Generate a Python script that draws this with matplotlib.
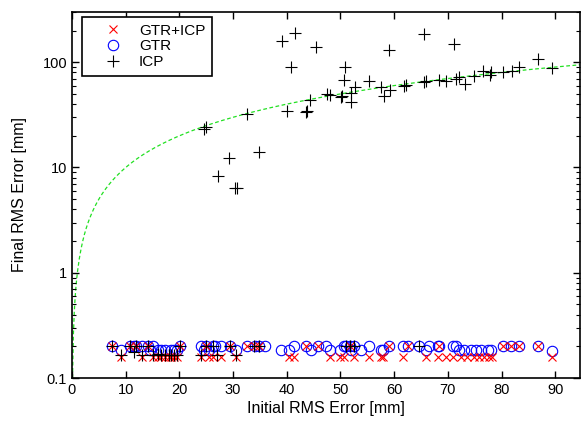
import numpy as np
import matplotlib
matplotlib.use('Agg')
import matplotlib.pyplot as plt

plt.rcParams['font.family'] = ['Liberation Sans', 'DejaVu Sans']

# ICP final error (did not converge / large error)
icp_hi_x = [24.5, 24.9, 27.2, 29.2, 30.3, 30.8, 32.5, 34.8, 39.1, 40.1, 40.8, 41.6,
            43.6, 43.8, 44.4, 45.5, 47.5, 48.0, 50.1, 50.3, 50.6, 50.9, 51.9, 51.9,
            52.7, 55.4, 57.6, 58.1, 59.1, 59.3, 61.8, 62.2, 65.5, 65.6, 66.0, 68.4,
            69.6, 71.1, 71.5, 72.0, 73.2, 74.9, 76.6, 77.9, 78.0, 80.2, 82.0, 83.3,
            86.8, 89.3]
icp_hi_y = [23.3, 24.4, 8.3, 12.4, 6.4, 6.4, 31.9, 14.1, 158, 34.3, 89.5, 189,
            34.0, 34.5, 43.6, 139, 50.0, 48.6, 46.9, 47.5, 68.5, 89.5, 51.1, 42.0,
            58.3, 65.9, 58.3, 47.6, 129.7, 53.9, 59.2, 61.4, 185, 65.0, 67.0, 67.4,
            66.0, 148.7, 70.0, 72.0, 62.7, 73.6, 82.0, 76.3, 80.8, 80.8, 82.0, 90.1,
            107, 88.0]

# ICP final error (converged)
icp_lo_x = [7.4, 9.2, 10.8, 11.5, 12.0, 13.0, 14.1, 15.1, 16.0, 16.5, 17.3, 18.0,
            18.5, 19.0, 19.5, 20.1, 24.1, 25.0, 26.3, 27.0, 29.4, 30.6, 33.8, 34.9,
            51.0, 51.7, 52.6, 64.7]
icp_lo_y = [0.2, 0.165, 0.2, 0.175, 0.2, 0.165, 0.2, 0.165, 0.17, 0.165, 0.165, 0.165,
            0.165, 0.165, 0.165, 0.2, 0.165, 0.2, 0.2, 0.165, 0.2, 0.165, 0.2, 0.2,
            0.2, 0.2, 0.2, 0.2]

# GTR final error
gtr_x = [7.4, 9.2, 10.8, 11.5, 12.0, 13.0, 14.1, 14.5, 15.1, 16.0, 16.5, 17.3,
         18.5, 19.0, 19.5, 20.1, 24.1, 24.5, 25.0, 25.5, 26.3, 26.6, 27.8, 29.4,
         30.6, 32.5, 34.0, 34.9, 35.9, 39.0, 40.5, 41.4, 43.6, 44.5, 45.8, 47.3,
         48.0, 50.0, 50.7, 51.0, 51.7, 52.0, 52.6, 53.8, 55.4, 57.6, 58.0, 59.1,
         61.6, 62.5, 64.7, 65.9, 66.5, 68.1, 68.4, 70.9, 71.5, 72.1, 73.0, 74.3,
         75.2, 76.2, 77.4, 78.0, 80.2, 81.7, 83.3, 86.7, 89.3]
gtr_y = [0.2, 0.185, 0.2, 0.2, 0.2, 0.2, 0.2, 0.185, 0.2, 0.185, 0.185, 0.185,
         0.185, 0.185, 0.185, 0.2, 0.2, 0.185, 0.2, 0.185, 0.2, 0.2, 0.2, 0.2,
         0.185, 0.2, 0.2, 0.2, 0.2, 0.185, 0.185, 0.2, 0.2, 0.185, 0.2, 0.2,
         0.185, 0.185, 0.2, 0.2, 0.2, 0.185, 0.2, 0.185, 0.2, 0.185, 0.185, 0.2,
         0.2, 0.2, 0.2, 0.185, 0.2, 0.2, 0.2, 0.2, 0.2, 0.185, 0.185, 0.185,
         0.185, 0.185, 0.185, 0.185, 0.2, 0.2, 0.2, 0.2, 0.18]

# GTR+ICP final error
gtricp_x = [7.4, 9.2, 10.8, 12.0, 13.0, 14.1, 15.1, 16.0, 16.5, 17.3, 18.0, 18.5,
            19.0, 19.5, 20.1, 24.1, 25.0, 25.5, 26.3, 27.8, 29.4, 30.6, 32.5, 34.0,
            34.9, 40.5, 41.4, 43.6, 45.8, 48.0, 50.0, 50.7, 51.7, 52.6, 55.4, 57.6,
            58.0, 59.1, 61.6, 62.5, 65.9, 68.1, 68.4, 69.6, 70.9, 72.4, 73.6, 74.9,
            75.8, 76.8, 77.7, 78.2, 80.2, 81.7, 83.3, 86.7, 89.3]
gtricp_y = [0.2, 0.16, 0.2, 0.2, 0.16, 0.2, 0.16, 0.16, 0.16, 0.16, 0.16, 0.16,
            0.16, 0.16, 0.2, 0.16, 0.2, 0.16, 0.16, 0.16, 0.2, 0.16, 0.2, 0.2,
            0.2, 0.16, 0.16, 0.2, 0.2, 0.16, 0.16, 0.16, 0.2, 0.16, 0.16, 0.16,
            0.16, 0.2, 0.16, 0.2, 0.16, 0.16, 0.2, 0.16, 0.16, 0.16, 0.16, 0.16,
            0.16, 0.16, 0.16, 0.16, 0.2, 0.2, 0.2, 0.2, 0.16]

fig = plt.figure(figsize=(5.81, 4.26), dpi=100)
ax = fig.add_axes([72/581, 48/426, 508/581, 366/426])

# y = x reference line
ref = np.linspace(0.1, 95, 600)
ax.plot(ref, ref, color='#22e022', lw=0.9, dashes=(3, 2), zorder=1)

ax.plot(gtricp_x, gtricp_y, 'x', color='red', ms=6, mew=0.8, label='GTR+ICP', zorder=3)
ax.plot(gtr_x, gtr_y, 'o', mfc='none', mec='blue', ms=7.5, mew=0.8, label='GTR', zorder=2)
ax.plot(icp_hi_x + icp_lo_x, icp_hi_y + icp_lo_y, '+', color='black', ms=8, mew=0.8,
        label='ICP', zorder=4)

ax.set_yscale('log')
ax.set_xlim(0, 94.6)
ax.set_ylim(0.1, 300)
ax.set_xticks(range(0, 100, 10))
ax.set_yticks([0.1, 1, 10, 100])
ax.set_yticklabels(['0.1', '1', '10', '100'])
ax.tick_params(which='both', direction='in', top=True, right=True, labelsize=10.5)
ax.tick_params(which='major', length=5, width=1)
ax.tick_params(which='minor', length=3, width=0.8)
ax.tick_params(axis='x', which='minor', bottom=False, top=False)
for s in ax.spines.values():
    s.set_linewidth(1.2)

ax.set_xlabel('Initial RMS Error [mm]', fontsize=11.5, labelpad=3)
ax.set_ylabel('Final RMS Error [mm]', fontsize=11.5, labelpad=11)

leg = ax.legend(loc='upper left', bbox_to_anchor=(0.019, 0.987), borderaxespad=0,
                fancybox=False, edgecolor='black', framealpha=1, fontsize=11,
                labelspacing=0.12, handlelength=3.2, handletextpad=0.1,
                borderpad=0.45)
leg.get_frame().set_linewidth(1.2)

fig.savefig('out.png', dpi=100)
